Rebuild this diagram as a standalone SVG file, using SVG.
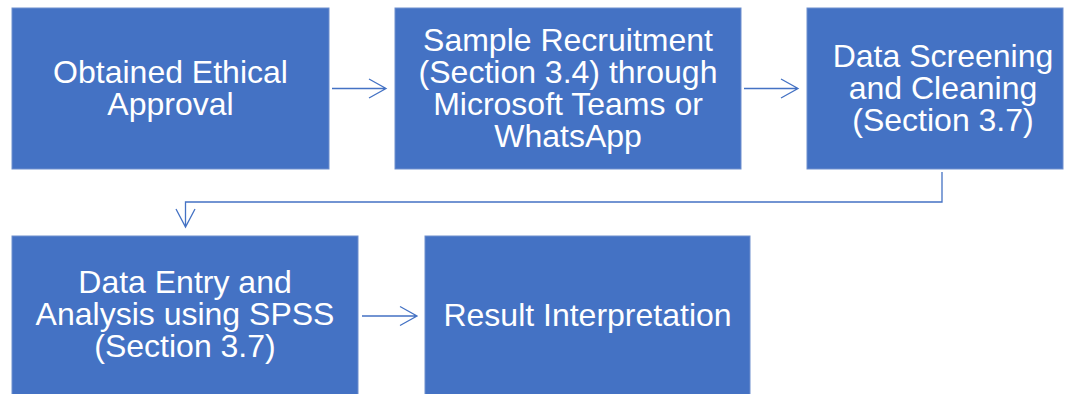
<svg xmlns="http://www.w3.org/2000/svg" width="1077" height="394" viewBox="0 0 1077 394">
  <style>
    .box { fill: #4472C4; stroke: #6E8FCE; stroke-width: 1; }
    .label { fill: #FFFFFF; font-family: "Liberation Sans", Arial, sans-serif; font-size: 32px; text-anchor: middle; }
    .link { fill: none; stroke: #4472C4; stroke-width: 1.3; }
  </style>
  <rect width="1077" height="394" fill="#FFFFFF"/>

  <g id="connectors">
    <!-- Ethical approval -> Recruitment -->
    <path class="link" d="M332 88.5 H386 M369 79 L386 88.5 L369 98"/>
    <!-- Recruitment -> Screening -->
    <path class="link" d="M744 88.5 H798 M781 79 L798 88.5 L781 98"/>
    <!-- Screening -> Data entry (elbow) -->
    <path class="link" d="M942 172 V202 H185.5 V227 M176 209 L185.5 227 L195 209"/>
    <!-- Data entry -> Interpretation -->
    <path class="link" d="M362 316 H417 M400 306.5 L417 316 L400 325.5"/>
  </g>

  <g id="node-ethical-approval">
    <rect class="box" x="12" y="8" width="317" height="161"/>
    <text class="label" x="170.5" y="83">Obtained Ethical</text>
    <text class="label" x="170.5" y="115">Approval</text>
  </g>

  <g id="node-sample-recruitment">
    <rect class="box" x="395" y="8" width="346" height="161"/>
    <text class="label" x="568" y="51">Sample Recruitment</text>
    <text class="label" x="568" y="83">(Section 3.4) through</text>
    <text class="label" x="568" y="115">Microsoft Teams or</text>
    <text class="label" x="568" y="147">WhatsApp</text>
  </g>

  <g id="node-data-screening">
    <rect class="box" x="807" y="8" width="256" height="161"/>
    <text class="label" x="943" y="67">Data Screening</text>
    <text class="label" x="943" y="99">and Cleaning</text>
    <text class="label" x="943" y="131">(Section 3.7)</text>
  </g>

  <g id="node-data-entry">
    <rect class="box" x="12" y="236" width="346" height="160"/>
    <text class="label" x="185" y="293">Data Entry and</text>
    <text class="label" x="185" y="325">Analysis using SPSS</text>
    <text class="label" x="185" y="357">(Section 3.7)</text>
  </g>

  <g id="node-result-interpretation">
    <rect class="box" x="425" y="236" width="325" height="160"/>
    <text class="label" x="587.5" y="326">Result Interpretation</text>
  </g>
</svg>
